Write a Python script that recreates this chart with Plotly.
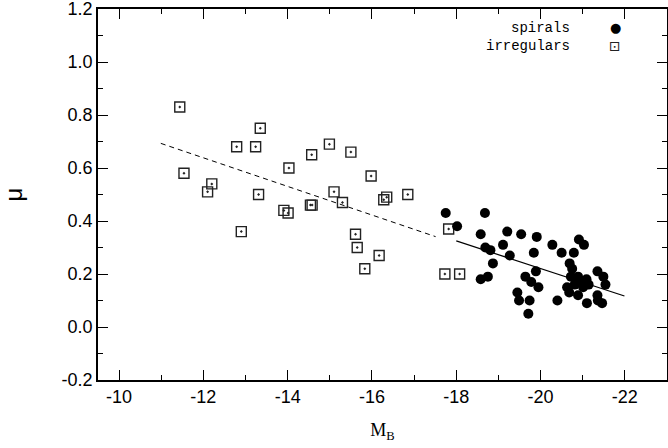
import plotly.graph_objects as go

# ---- data ----
spiral_mb = [-17.75, -18.68, -18.02, -18.58, -19.21, -19.54, -19.91, -20.28, -20.50, -20.91,
             -21.03, -20.79, -19.84, -19.11, -19.27, -18.69, -18.81, -18.87, -18.58, -18.75,
             -19.64, -19.89, -19.78, -19.95, -19.45, -19.49, -19.74, -19.71, -20.40, -20.69,
             -20.75, -20.72, -20.89, -21.09, -21.14, -21.35, -21.49, -21.54, -20.63, -20.68,
             -20.89, -21.01, -21.10, -21.35, -21.36, -21.46, -20.97, -20.81]
spiral_mu = [0.43, 0.43, 0.38, 0.35, 0.36, 0.35, 0.34, 0.31, 0.28, 0.33,
             0.31, 0.28, 0.28, 0.31, 0.27, 0.30, 0.29, 0.24, 0.18, 0.19,
             0.19, 0.21, 0.17, 0.15, 0.13, 0.10, 0.10, 0.05, 0.10, 0.24,
             0.22, 0.19, 0.19, 0.18, 0.16, 0.21, 0.19, 0.16, 0.15, 0.13,
             0.12, 0.15, 0.09, 0.12, 0.10, 0.09, 0.17, 0.16]

irr_mb = [-11.44, -11.54, -12.20, -12.10, -12.79, -13.24, -13.35, -13.31, -14.03, -14.57,
          -14.99, -15.10, -15.50, -15.98, -15.30, -12.90, -13.91, -14.01, -14.54, -14.58,
          -15.61, -15.65, -15.83, -16.35, -16.28, -16.85, -16.17, -17.82, -17.73, -18.08]
irr_mu = [0.83, 0.58, 0.54, 0.51, 0.68, 0.68, 0.75, 0.50, 0.60, 0.65,
          0.69, 0.51, 0.66, 0.57, 0.47, 0.36, 0.44, 0.43, 0.46, 0.46,
          0.35, 0.30, 0.22, 0.49, 0.48, 0.50, 0.27, 0.37, 0.20, 0.20]

# fit lines (end points)
irr_fit_mb = [-10.99, -17.51]
irr_fit_mu = [0.693, 0.341]
sp_fit_mb = [-18.00, -21.99]
sp_fit_mu = [0.325, 0.117]

x_ticks = [-10, -12, -14, -16, -18, -20, -22]
y_ticks = [-0.2, 0.0, 0.2, 0.4, 0.6, 0.8, 1.0, 1.2]

fig = go.Figure()
fig.add_trace(go.Scatter(x=irr_fit_mb, y=irr_fit_mu, mode="lines",
                         line=dict(color="black", width=1, dash="5px,4px"), showlegend=False))
fig.add_trace(go.Scatter(x=sp_fit_mb, y=sp_fit_mu, mode="lines",
                         line=dict(color="black", width=1.2), showlegend=False))
fig.add_trace(go.Scatter(x=irr_mb, y=irr_mu, mode="markers", name="irregulars",
                         marker=dict(symbol="square-open-dot", size=10, color="#222",
                                     line=dict(width=1.4, color="#222")),
                         showlegend=False))
fig.add_trace(go.Scatter(x=spiral_mb, y=spiral_mu, mode="markers", name="spirals",
                         marker=dict(symbol="circle", size=10, color="black", line=dict(width=0)),
                         showlegend=False))

# legend drawn as text (symbol to the right of the label)
leg_font = dict(family="Liberation Mono, Courier New, monospace", size=14, color="black")
fig.add_annotation(text="spirals", xref="paper", yref="paper", x=0.833, y=0.950,
                   xanchor="right", yanchor="middle", showarrow=False, font=leg_font)
fig.add_annotation(text="irregulars", xref="paper", yref="paper", x=0.833, y=0.901,
                   xanchor="right", yanchor="middle", showarrow=False, font=leg_font)
fig.add_annotation(text="●", xref="paper", yref="paper", x=0.909, y=0.950,
                   xanchor="center", yanchor="middle", showarrow=False,
                   font=dict(family="DejaVu Sans", size=13, color="black"))
fig.add_annotation(text="⊡", xref="paper", yref="paper", x=0.909, y=0.901,
                   xanchor="center", yanchor="middle", showarrow=False,
                   font=dict(family="DejaVu Sans", size=14, color="#222"))

axis_common = dict(showgrid=False, zeroline=False, showline=True, linecolor="black",
                   linewidth=1.5, mirror="allticks", ticks="inside", ticklen=10,
                   tickwidth=1.3, tickcolor="black", automargin=False,
                   ticklabeloverflow="allow",
                   tickfont=dict(family="Liberation Sans, Arial", size=18, color="black"))

fig.update_xaxes(range=[-9.5, -23], tickvals=x_ticks, ticktext=[str(v) for v in x_ticks],
                 minor=dict(ticks="inside", ticklen=5, dtick=1, tick0=-10, tickcolor="black",
                            tickwidth=1.3),
                 title=dict(text="M<sub>B</sub>", standoff=17,
                            font=dict(family="Liberation Serif, Times New Roman", size=18,
                                      color="black")),
                 **axis_common)
fig.update_yaxes(range=[-0.2, 1.2], tickvals=y_ticks, ticktext=[f"{v:.1f}" for v in y_ticks],
                 minor=dict(ticks="inside", ticklen=5, dtick=0.1, tick0=0, tickcolor="black",
                            tickwidth=1.3),
                 title=dict(text="μ", standoff=33,
                            font=dict(family="Liberation Sans, Arial", size=24, color="black")),
                 **axis_common)

fig.update_layout(width=668, height=448, margin=dict(l=98, r=1, t=9, b=68),
                  plot_bgcolor="white", paper_bgcolor="white", showlegend=False)

# remove the page's default body margin so the figure fills the window exactly
fig.write_html("out.html", config={"displayModeBar": False},
               post_script="document.body.style.margin='0px';")
